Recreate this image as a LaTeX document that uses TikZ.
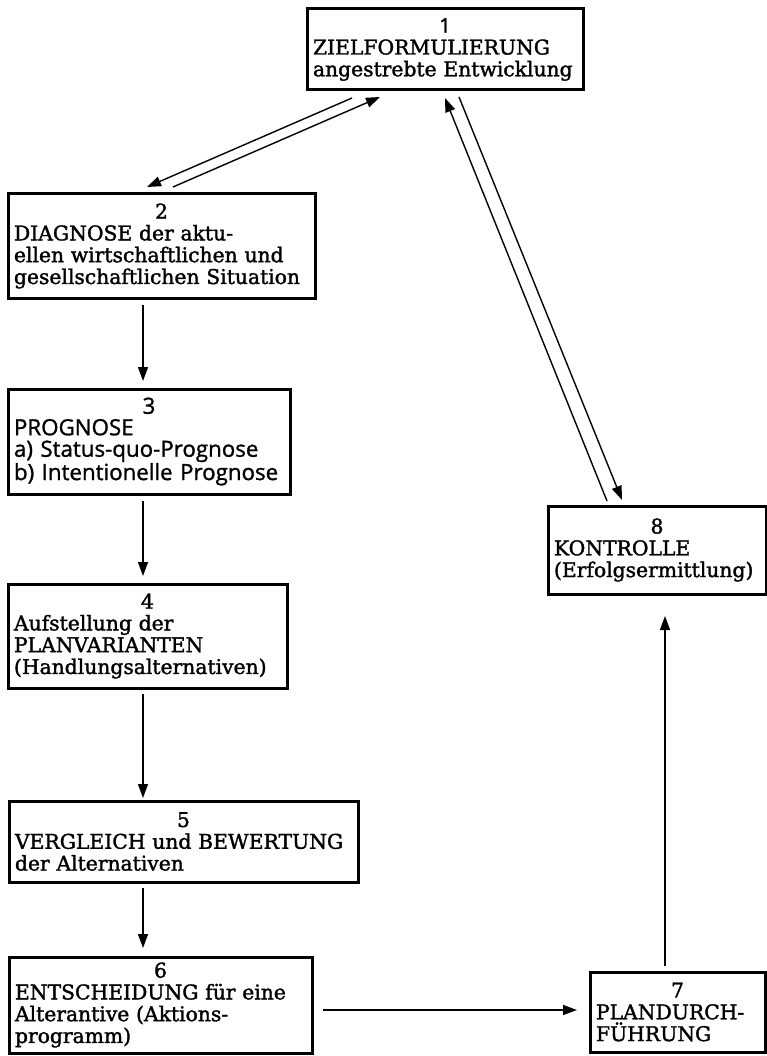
\documentclass[tikz,border=0pt]{standalone}
\usepackage{fontspec}
\setmainfont{DejaVu Serif}
\newfontfamily\serf{DejaVu Serif}[FakeBold=1.6]
\newfontfamily\sansf{Open Sans}[FakeBold=1.2]
\usetikzlibrary{arrows.meta}
\setlength\parindent{0pt}
\begin{document}
\begin{tikzpicture}[x=1pt,y=-1pt,
  box/.style={draw, line width=3pt, outer sep=0pt, anchor=north west,
    inner xsep=6pt, inner ysep=1pt, align=left,
    font=\serf\fontsize{20.3}{21.8}\selectfont},
  sbox/.style={box, font=\sansf\fontsize{22.3}{21.5}\selectfont},
  arr/.style={line width=1.4pt, -{Triangle[length=14pt,width=10pt]}}]
\useasboundingbox[fill=white] (0,0) rectangle (767,1056);

\node[box, minimum width=276pt, minimum height=81pt, text width=264pt] (b1) at (307,9)
  {{\centering\sansf 1\par}ZIELFORMULIERUNG\par angestrebte Entwicklung};
\node[box, minimum width=307pt, minimum height=104pt, text width=295pt] (b2) at (8,194)
  {{\centering 2\par}DIAGNOSE der aktu-\par ellen wirtschaftlichen und\par gesellschaftlichen Situation};
\node[sbox, minimum width=282pt, minimum height=105pt, text width=270pt] (b3) at (8,389)
  {{\centering 3\par}PROGNOSE\par a) Status-quo-Prognose\par b) Intentionelle Prognose};
\node[box, minimum width=279pt, minimum height=104pt, text width=267pt] (b4) at (8,584)
  {{\centering 4\par}Aufstellung der\par PLANVARIANTEN\par (Handlungsalternativen)};
\node[box, minimum width=349pt, minimum height=81pt, text width=337pt] (b5) at (9,801)
  {{\centering 5\par}VERGLEICH und BEWERTUNG\par der Alternativen};
\node[box, minimum width=303pt, minimum height=96pt, text width=291pt] (b6) at (9,957)
  {{\centering 6\par}ENTSCHEIDUNG für eine\par Alterantive (Aktions-\par programm)};
\node[box, minimum width=175pt, minimum height=80pt, text width=163pt] (b7) at (590,972)
  {{\centering 7\par}PLANDURCH-\par FÜHRUNG};
\node[box, minimum width=218pt, minimum height=88pt, text width=206pt] (b8) at (548,506)
  {{\centering 8\par}KONTROLLE\par (Erfolgsermittlung)};

\coordinate (cx) at (143,0);
\coordinate (cx8) at (665,0);
\coordinate (ry) at (0,1010);

\draw[arr, shorten <=7pt, shorten >=8pt] (b2.south -| cx) -- (b3.north -| cx);
\draw[arr, shorten <=7pt, shorten >=8pt] (b3.south -| cx) -- (b4.north -| cx);
\draw[arr, shorten <=6pt, shorten >=3pt] (b4.south -| cx) -- (b5.north -| cx);
\draw[arr, shorten <=6pt, shorten >=9pt] (b5.south -| cx) -- (b6.north -| cx);
\draw[arr, shorten <=11pt, shorten >=13pt] (b6.east |- ry) -- (b7.west |- ry);
\draw[arr, shorten <=6pt, shorten >=22pt] (b7.north -| cx8) -- (b8.south -| cx8);

\draw[arr] ([xshift=45pt,yshift=-8pt]b1.south west) -- ([xshift=139pt,yshift=7pt]b2.north west);
\draw[arr] ([xshift=165pt,yshift=7pt]b2.north west) -- ([xshift=73pt,yshift=-7pt]b1.south west);
\draw[arr] ([xshift=59pt,yshift=5pt]b8.north west) -- ([xshift=138pt,yshift=-8pt]b1.south west);
\draw[arr] ([xshift=152pt,yshift=-7pt]b1.south west) -- ([xshift=74pt,yshift=6pt]b8.north west);
\end{tikzpicture}
\end{document}
